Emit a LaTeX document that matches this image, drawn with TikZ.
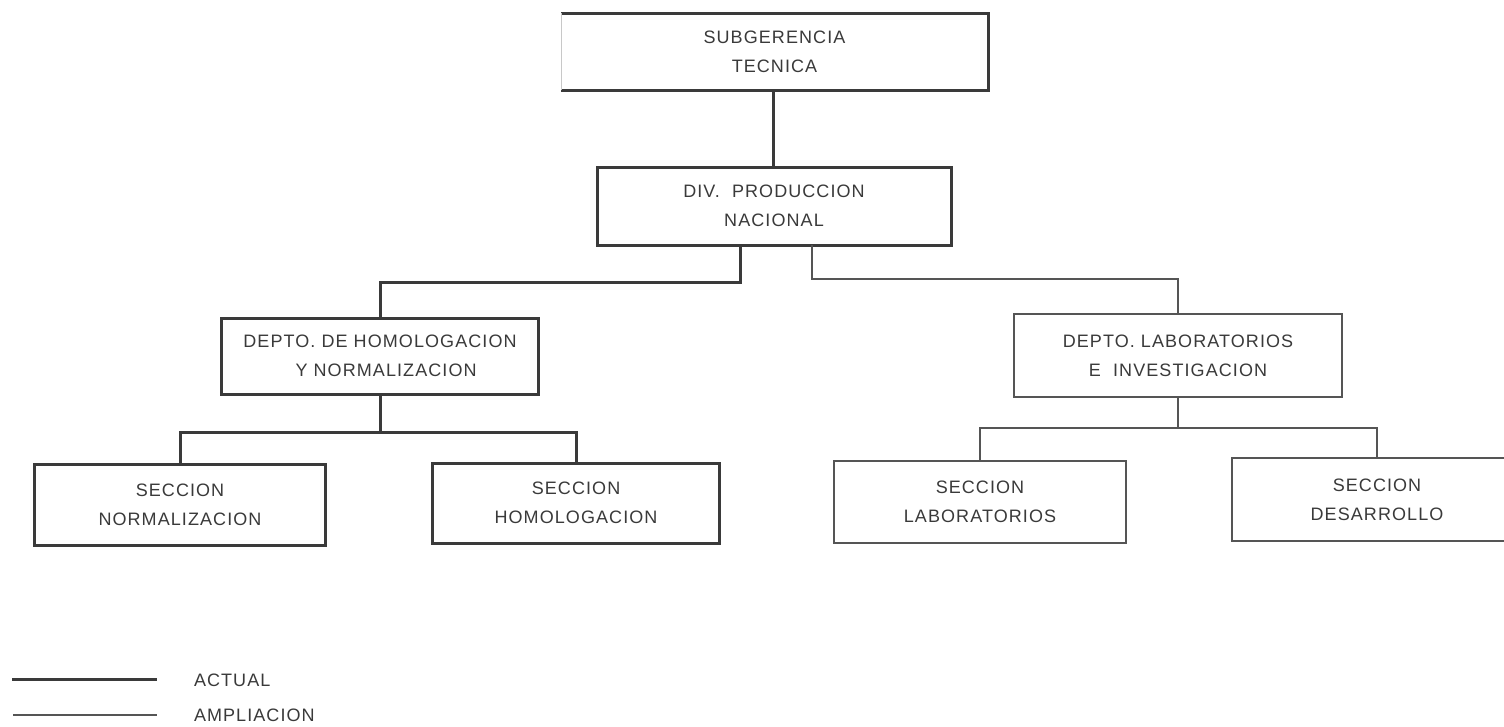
\documentclass[tikz,border=0pt]{standalone}
\usepackage{fontspec}
\setmainfont{Liberation Sans}[LetterSpace=6]
\usetikzlibrary{calc}
\definecolor{inkdark}{HTML}{3A3A3A}
\definecolor{inkthin}{HTML}{555555}
\definecolor{inkfaint}{HTML}{C8C8C8}
\tikzset{
  txt/.style={font=\fontsize{18}{29}\selectfont, text=inkdark, align=center, inner sep=0pt, outer sep=0pt},
  actualline/.style={draw=inkdark, line width=3pt},
  amplline/.style={draw=inkthin, line width=1.3pt},
  actualbox/.style={txt, actualline},
  amplbox/.style={txt, amplline},
}
\begin{document}
\begin{tikzpicture}[x=1pt, y=-1pt, line join=miter]
\clip (0,0) rectangle (1504,726);
\fill[white] (0,0) rectangle (1504,726);

% Level 1
\node[txt, minimum width=427pt, minimum height=77pt] (sub) at (774.5,51.5) {SUBGERENCIA\\TECNICA};
\draw[actualline] (sub.north west) -- (sub.north east) -- (sub.south east) -- (sub.south west);
\draw[draw=inkfaint, line width=1pt] (sub.south west) -- (sub.north west);

% Level 2
\node[actualbox, minimum width=354pt, minimum height=78pt] (div) at (774,206) {DIV.~~PRODUCCION\\NACIONAL};

% Level 3
\node[actualbox, minimum width=317pt, minimum height=76pt] (hom) at (380,356) {DEPTO. DE HOMOLOGACION\\~~Y NORMALIZACION};
\node[amplbox, minimum width=328pt, minimum height=83pt] (lab) at (1178,355.5) {DEPTO. LABORATORIOS\\E~~INVESTIGACION};

% Level 4
\node[actualbox, minimum width=291pt, minimum height=81pt] (norm) at (180,504.5) {SECCION\\NORMALIZACION};
\node[actualbox, minimum width=287pt, minimum height=80pt] (shom) at (576,503) {SECCION\\HOMOLOGACION};
\node[amplbox, minimum width=292pt, minimum height=82pt] (slab) at (980,502) {SECCION\\LABORATORIOS};
\node[amplbox, minimum width=290pt, minimum height=83pt] (sdes) at (1377,499.5) {SECCION\\DESARROLLO};

% Connectors
\draw[actualline] (div.north -| 773,0) -- (sub.south -| 773,0);
\draw[actualline] ([xshift=-34pt]div.south) -- ++(0,37) -| (hom.north);
\draw[amplline] ([xshift=38pt]div.south) -- ++(0,34) -| (lab.north);
\draw[actualline] (hom.south) -- ++(0,38) -| (norm.north);
\draw[actualline] (hom.south) -- ++(0,38) -| (shom.north);
\draw[amplline] (lab.south) -- ++(0,31) -| (slab.north);
\draw[amplline] (lab.south) -- ++(0,31) -| (sdes.north);

% Legend
\coordinate (la1) at (12,679);
\coordinate (la2) at (157,679);
\coordinate (lb1) at (13,715);
\coordinate (lb2) at (157,715);
\draw[actualline] (la1) -- (la2);
\draw[amplline] (lb1) -- (lb2);
\node[txt, anchor=west] (lega) at (194,680) {ACTUAL};
\node[txt, anchor=west] (legb) at (194,715) {AMPLIACION};
\end{tikzpicture}
\end{document}
